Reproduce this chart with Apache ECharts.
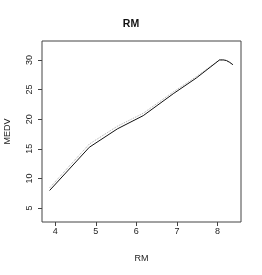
<!DOCTYPE html>
<html><head><meta charset="utf-8">
<script src="https://cdn.jsdelivr.net/npm/echarts@6/dist/echarts.min.js"></script>
<style>html,body{margin:0;padding:0;background:#fff}#c{width:262px;height:275px}</style>
</head><body><div id="c"></div>
<script>
const rmX = [3.86, 4.84, 5.53, 6.17, 6.91, 7.48, 8.05, 8.15, 8.22, 8.30, 8.38];
const medvFit = [7.96, 15.26, 18.36, 20.6, 24.3, 26.96, 30.0, 30.0, 29.9, 29.6, 29.2];
const medvRef = [8.4, 15.8, 18.8, 21.0, 24.6, 27.2, 30.0, 30.0, 29.9, 29.6, 29.2];
const xTicks = [4, 5, 6, 7, 8];
const yTicks = [5, 10, 15, 20, 25, 30];

const chart = echarts.init(document.getElementById('c'), null, {renderer: 'canvas'});
const font = 'Liberation Sans, Arial, sans-serif';
chart.setOption({
  animation: false,
  title: {text: 'RM', left: 'center', top: 14, textStyle: {fontFamily: font, fontSize: 10.5, fontWeight: 'bold', color: '#111'}},
  grid: {left: 42, right: 21, top: 41, bottom: 53, show: true, borderColor: '#444', borderWidth: 1,
         containLabel: false, outerBoundsMode: 'none'},
  xAxis: {
    type: 'value', min: 3.673, max: 8.58,
    name: 'RM', nameLocation: 'middle', nameGap: 32,
    nameTextStyle: {fontFamily: font, fontSize: 9, color: '#222'},
    axisLine: {show: false},
    splitLine: {show: false},
    axisTick: {show: true, length: 4, lineStyle: {color: '#444'}, customValues: xTicks},
    axisLabel: {fontFamily: font, fontSize: 9, color: '#222', margin: 5, customValues: xTicks}
  },
  yAxis: {
    type: 'value', min: 2.64, max: 33.2,
    name: 'MEDV', nameLocation: 'middle', nameGap: 30,
    nameTextStyle: {fontFamily: font, fontSize: 9, color: '#222'},
    axisLine: {show: false},
    splitLine: {show: false},
    axisTick: {show: true, length: 4, lineStyle: {color: '#444'}, customValues: yTicks},
    axisLabel: {fontFamily: font, fontSize: 9, color: '#222', margin: 8, rotate: 90, customValues: yTicks}
  },
  series: [
    {type: 'line', data: rmX.map((x, i) => [x, medvRef[i]]), showSymbol: false, smooth: false,
     lineStyle: {color: '#aaa', width: 1, type: 'dotted'}, z: 1},
    {type: 'line', data: rmX.map((x, i) => [x, medvFit[i]]), showSymbol: false, smooth: false,
     lineStyle: {color: '#111', width: 1}, z: 2}
  ]
});
</script></body></html>
